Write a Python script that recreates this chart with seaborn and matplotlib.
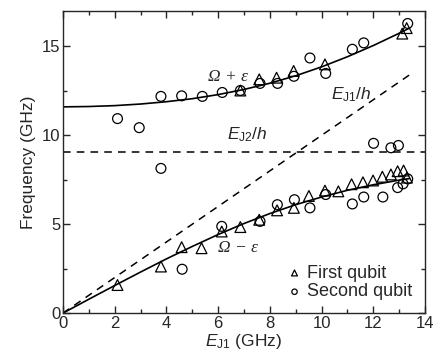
import numpy as np
import pandas as pd
import matplotlib
matplotlib.use("Agg")
import matplotlib.pyplot as plt
import seaborn as sns
from matplotlib.ticker import MultipleLocator

# ===============================
# DATA
# ===============================
# theory curves
curve_x = [0, 1, 2, 3, 4, 5, 6, 7, 8, 9, 10, 11, 12, 13, 13.4]
upper_y = [11.60, 11.62, 11.67, 11.76, 11.89, 12.06, 12.29, 12.58, 12.93, 13.35, 13.85, 14.42, 15.05, 15.74, 16.03]
lower_y = [0.00, 0.78, 1.55, 2.31, 3.05, 3.75, 4.42, 5.04, 5.60, 6.10, 6.53, 6.91, 7.22, 7.48, 7.57]

# dashed guides
ej1_x = [0, 13.5]
ej1_y = [0, 13.5]
ej2_x = [0, 14]
ej2_y = [9.05, 9.05]

# first qubit (triangles)
first_x = [2.11, 3.79, 4.59, 5.36, 6.14, 6.86, 7.59, 8.28, 8.93, 9.51, 10.13, 10.65, 11.16, 11.60,
           11.99, 12.35, 12.68, 12.94, 13.17, 13.30,
           6.86, 7.59, 8.26, 8.92, 10.13, 13.12, 13.29]
first_y = [1.58, 2.62, 3.71, 3.65, 4.59, 4.84, 5.25, 5.78, 5.92, 6.59, 6.89, 6.85, 7.25, 7.36,
           7.46, 7.67, 7.80, 7.98, 8.02, 7.62,
           12.52, 13.15, 13.24, 13.62, 13.99, 15.72, 16.03]

# second qubit (circles)
second_x = [2.11, 2.95, 3.79, 3.79, 4.59, 5.39, 6.16, 6.86, 7.62, 8.30, 8.93, 9.55, 10.16, 11.19,
            11.63, 13.33,
            4.61, 6.14, 7.62, 8.29, 8.95, 9.55, 10.16, 11.19, 11.63, 12.37, 12.94, 13.15, 13.33,
            12.01, 12.68, 12.97]
second_y = [10.94, 10.43, 8.14, 12.19, 12.22, 12.19, 12.41, 12.52, 12.92, 12.92, 13.32, 14.35, 13.48, 14.84,
            15.20, 16.29,
            2.47, 4.88, 5.16, 6.10, 6.38, 5.92, 6.67, 6.14, 6.53, 6.53, 7.06, 7.27, 7.55,
            9.55, 9.30, 9.43]

# ===============================
# STYLE
# ===============================
sns.set_style("ticks")
plt.rcParams["font.family"] = ["Liberation Sans", "DejaVu Sans"]
plt.rcParams["mathtext.fontset"] = "custom"
plt.rcParams["mathtext.rm"] = "Liberation Sans"
plt.rcParams["mathtext.it"] = "Liberation Sans:italic"
plt.rcParams["font.size"] = 12

fig = plt.figure(figsize=(4.4, 3.62), dpi=100)
ax = fig.add_axes([0.143, 0.135, 0.823, 0.835])

# ===============================
# PLOT
# ===============================
sns.lineplot(x=curve_x, y=upper_y, ax=ax, color="black", lw=1.2)
sns.lineplot(x=curve_x, y=lower_y, ax=ax, color="black", lw=1.2)
sns.lineplot(x=ej1_x, y=ej1_y, ax=ax, color="black", lw=1.1, linestyle=(0, (5, 4)))
sns.lineplot(x=ej2_x, y=ej2_y, ax=ax, color="black", lw=1.1, linestyle=(0, (5, 4)))

sns.scatterplot(x=first_x, y=first_y, ax=ax, marker="^", s=60, facecolor="none",
                edgecolor="black", linewidth=0.9, label="First qubit", zorder=3)
sns.scatterplot(x=second_x, y=second_y, ax=ax, marker="o", s=50, facecolor="none",
                edgecolor="black", linewidth=0.9, label="Second qubit", zorder=3)

# annotations
ax.text(6.37, 13.3, "Ω + ε", family="Liberation Serif", style="italic", fontsize=12.5,
        ha="center", va="center")
ax.text(6.75, 3.67, "Ω − ε", family="Liberation Serif", style="italic", fontsize=12.5,
        ha="center", va="center")
ax.text(11.13, 12.3, r"$E_{\mathrm{J1}}/h$", fontsize=12.5, ha="center", va="center")
ax.text(7.13, 10.06, r"$E_{\mathrm{J2}}/h$", fontsize=12.5, ha="center", va="center")

# ===============================
# AXES
# ===============================
ax.set_xlim(0, 14)
ax.set_ylim(0, 17)
ax.xaxis.set_major_locator(MultipleLocator(2))
ax.xaxis.set_minor_locator(MultipleLocator(1))
ax.yaxis.set_major_locator(MultipleLocator(5))
ax.yaxis.set_minor_locator(MultipleLocator(2.5))
ax.tick_params(which="both", direction="in", top=True, right=True, width=1, labelsize=12)
ax.tick_params(which="major", length=5, pad=2)
ax.tick_params(which="minor", length=3)
for s in ax.spines.values():
    s.set_visible(True)
    s.set_linewidth(1)
ax.set_xlabel(r"$E_{\mathrm{J1}}$ (GHz)", fontsize=12.5, labelpad=1)
ax.set_ylabel("Frequency (GHz)", fontsize=12.5, labelpad=4)

leg = ax.legend(loc="lower right", frameon=False, fontsize=13, handletextpad=0.3,
                handlelength=0.8, borderaxespad=0.3, labelspacing=0.1, markerscale=0.55)

fig.savefig("out.png", dpi=100)
